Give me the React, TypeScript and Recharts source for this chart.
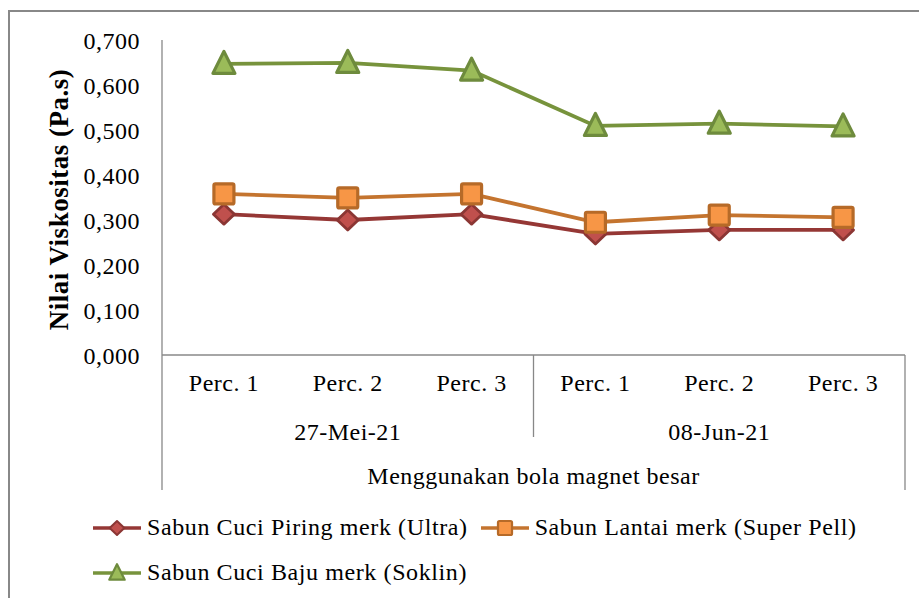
import React from 'react';
import { LineChart, Line, XAxis, YAxis, Legend, Label } from 'recharts';

const categories = ['Perc. 1', 'Perc. 2', 'Perc. 3', 'Perc. 1', 'Perc. 2', 'Perc. 3'];
const dates = ['27-Mei-21', '27-Mei-21', '27-Mei-21', '08-Jun-21', '08-Jun-21', '08-Jun-21'];
const ultra = [0.313, 0.3, 0.313, 0.269, 0.278, 0.278];
const superPell = [0.358, 0.349, 0.358, 0.295, 0.311, 0.306];
const soklin = [0.647, 0.649, 0.632, 0.509, 0.514, 0.508];
const yTicks = [0, 0.1, 0.2, 0.3, 0.4, 0.5, 0.6, 0.7];

const WIDTH = 919;
const HEIGHT = 598;
const Y_W = 162;
const X_H = 135;
const MARGIN = { top: 40, right: 14, left: 0, bottom: 108 };
const BAND = (WIDTH - MARGIN.right - MARGIN.left - Y_W) / categories.length;

const FONT = '"Liberation Serif", "Times New Roman", serif';
const AXIS_GRAY = '#888888';

const data = categories.map((c, i) => ({
  id: i,
  perc: c,
  date: dates[i],
  ultra: ultra[i],
  superPell: superPell[i],
  soklin: soklin[i],
}));

type Shape = 'diamond' | 'square' | 'triangle';

const SERIES: { key: string; name: string; line: string; fill: string; edge: string; shape: Shape }[] = [
  { key: 'ultra', name: 'Sabun Cuci Piring merk (Ultra)', line: '#953735', fill: '#c0504d', edge: '#8b3634', shape: 'diamond' },
  { key: 'superPell', name: 'Sabun Lantai merk (Super Pell)', line: '#c4742f', fill: '#f79646', edge: '#b66a28', shape: 'square' },
  { key: 'soklin', name: 'Sabun Cuci Baju merk (Soklin)', line: '#77933c', fill: '#9bbb59', edge: '#6e8b3d', shape: 'triangle' },
];

const Marker = ({ cx, cy, s, shape, fill, edge }: any) => {
  if (shape === 'diamond') {
    const w = 10.5 * s;
    const h = 10 * s;
    return (
      <polygon
        points={`${cx},${cy - h} ${cx + w},${cy} ${cx},${cy + h} ${cx - w},${cy}`}
        fill={fill}
        stroke={edge}
        strokeWidth={2.8 * s}
        strokeLinejoin="round"
      />
    );
  }
  if (shape === 'square') {
    const h = 10 * s;
    return <rect x={cx - h} y={cy - h} width={2 * h} height={2 * h} rx={1.5} fill={fill} stroke={edge} strokeWidth={3.2 * s} />;
  }
  const w = 11 * s;
  return (
    <polygon
      points={`${cx},${cy - 12.5 * s} ${cx + w},${cy + 9.5 * s} ${cx - w},${cy + 9.5 * s}`}
      fill={fill}
      stroke={edge}
      strokeWidth={3.2 * s}
      strokeLinejoin="round"
    />
  );
};

const XTick = (props: any) => {
  const { x, y, index } = props;
  const half = BAND / 2;
  const groupMid = index % 3 === 1;
  return (
    <g>
      <text x={x} y={y + 28} textAnchor="middle" dominantBaseline="central" fontSize={24} letterSpacing={0.5} fill="#000" fontFamily={FONT}>
        {categories[index]}
      </text>
      {groupMid && (
        <text x={x} y={y + 77} textAnchor="middle" dominantBaseline="central" fontSize={24} letterSpacing={0.5} fill="#000" fontFamily={FONT}>
          {dates[index]}
        </text>
      )}
      {index === 0 && <line x1={x - half} x2={x - half} y1={y} y2={y + X_H} stroke={AXIS_GRAY} strokeWidth={1.3} />}
      {index === 2 && <line x1={x + half} x2={x + half} y1={y} y2={y + 82} stroke={AXIS_GRAY} strokeWidth={1.3} />}
      {index === categories.length - 1 && <line x1={x + half} x2={x + half} y1={y} y2={y + X_H} stroke={AXIS_GRAY} strokeWidth={1.3} />}
    </g>
  );
};

const LegendBox = () => (
  <div style={{ display: 'flex', flexWrap: 'wrap', width: 800, fontFamily: FONT, fontSize: 24, letterSpacing: 0.6, color: '#000' }}>
    {SERIES.map((s) => (
      <div key={s.key} style={{ display: 'flex', alignItems: 'center', height: 45, marginRight: 12 }}>
        <svg width={50} height={24} style={{ marginRight: 5 }}>
          <line x1={1} x2={49} y1={12} y2={12} stroke={s.line} strokeWidth={3.5} />
          <Marker cx={25} cy={12} s={0.7} shape={s.shape} fill={s.fill} edge={s.edge} />
        </svg>
        <span>{s.name}</span>
      </div>
    ))}
  </div>
);

const fmt = (v: number) => v.toFixed(3).replace('.', ',');

export default function App() {
  return (
    <div style={{ position: 'absolute', left: 0, top: 0, width: WIDTH, height: HEIGHT, overflow: 'hidden', background: '#fff' }}>
      <div
        style={{
          position: 'absolute',
          left: 8,
          top: 10,
          width: 1000,
          height: 1000,
          border: `2.5px solid ${AXIS_GRAY}`,
        }}
      />
      <div style={{ position: 'absolute', left: 0, top: 0 }}>
        <LineChart width={WIDTH} height={HEIGHT} data={data} margin={MARGIN} style={{ fontFamily: FONT }}>
          <XAxis
            dataKey="id"
            type="category"
            height={X_H}
            padding={{ left: BAND / 2, right: BAND / 2 }}
            axisLine={{ stroke: AXIS_GRAY, strokeWidth: 1.3 }}
            tickLine={false}
            tickSize={0}
            tickMargin={0}
            interval={0}
            tick={<XTick />}
          >
            <Label
              content={(p: any) => {
                const vb = p.viewBox;
                return (
                  <text
                    x={vb.x + vb.width / 2}
                    y={vb.y + 121}
                    textAnchor="middle"
                    dominantBaseline="central"
                    fontSize={24}
                    letterSpacing={0.5}
                    fontFamily={FONT}
                    fill="#000"
                  >
                    Menggunakan bola magnet besar
                  </text>
                );
              }}
            />
          </XAxis>
          <YAxis
            width={Y_W}
            domain={[0, 0.7]}
            ticks={yTicks}
            interval={0}
            tickFormatter={fmt}
            axisLine={{ stroke: AXIS_GRAY, strokeWidth: 1.3 }}
            tickLine={false}
            tickSize={0}
            tickMargin={22}
            tick={{ fill: '#000', fontSize: 24, fontFamily: FONT, letterSpacing: 0.5 }}
          >
            <Label
              content={(p: any) => {
                const vb = p.viewBox;
                const cx = 59;
                const cy = vb.y + vb.height / 2 + 2;
                return (
                  <text
                    x={cx}
                    y={cy}
                    transform={`rotate(-90 ${cx} ${cy})`}
                    textAnchor="middle"
                    dominantBaseline="central"
                    fontSize={27}
                    fontWeight="bold"
                    letterSpacing={0.5}
                    fontFamily={FONT}
                    fill="#000"
                  >
                    Nilai Viskositas (Pa.s)
                  </text>
                );
              }}
            />
          </YAxis>
          <Legend
            layout="horizontal"
            verticalAlign="middle"
            align="center"
            wrapperStyle={{ top: 505, left: 92, width: 800 }}
            content={() => <LegendBox />}
          />
          {SERIES.map((s) => (
            <Line
              key={s.key}
              dataKey={s.key}
              name={s.name}
              stroke={s.line}
              strokeWidth={3.8}
              isAnimationActive={false}
              activeDot={false}
              dot={(p: any) => (
                <Marker key={`${s.key}-${p.index}`} cx={p.cx} cy={p.cy} s={1} shape={s.shape} fill={s.fill} edge={s.edge} />
              )}
            />
          ))}
        </LineChart>
      </div>
    </div>
  );
}
